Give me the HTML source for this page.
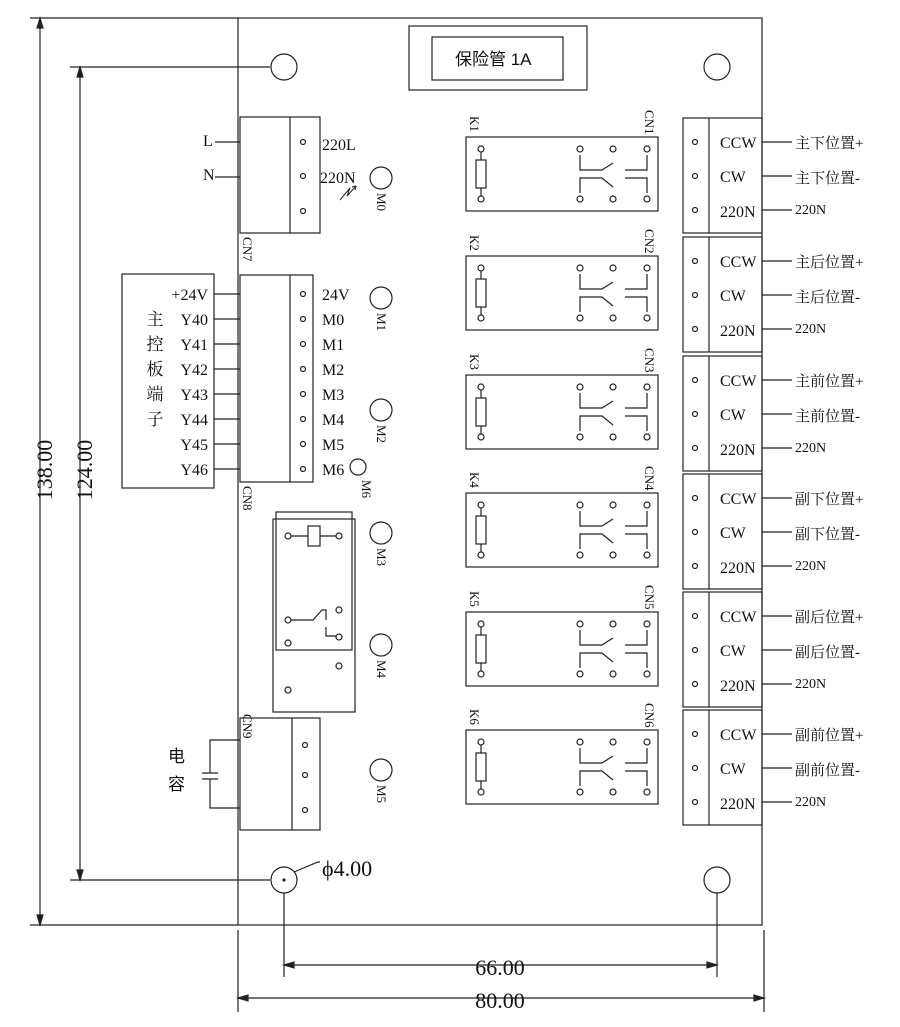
<!DOCTYPE html>
<html><head><meta charset="utf-8"><style>
body{margin:0;background:#fff}
svg{display:block}
text{font-family:"Liberation Serif","Noto Serif CJK SC",serif;fill:#111}
.c{font-family:"Liberation Sans","Noto Sans CJK SC",sans-serif}
</style></head><body>
<svg width="900" height="1027" viewBox="0 0 900 1027" xmlns="http://www.w3.org/2000/svg" stroke="#222" fill="none" stroke-width="1.2">
<defs>
<g id="relay">
<rect x="466" y="0" width="192" height="74"/>
<circle cx="481" cy="12" r="3"/><circle cx="481" cy="62" r="3"/>
<rect x="476" y="23" width="10" height="28"/>
<path d="M481 15V23M481 51V59"/>
<circle cx="580" cy="12" r="3"/><circle cx="613" cy="12" r="3"/><circle cx="647" cy="12" r="3"/>
<circle cx="580" cy="62" r="3"/><circle cx="613" cy="62" r="3"/><circle cx="647" cy="62" r="3"/>
<path d="M580 18V33H602L613 26M580 56V41H602L613 50M625 33H647V18M625 41H647V56"/>
</g>
<g id="conn">
<rect x="683" y="0" width="79" height="115"/>
<path d="M709 0V115"/>
<circle cx="695" cy="24" r="2.5"/><circle cx="695" cy="58" r="2.5"/><circle cx="695" cy="92" r="2.5"/>
<path d="M762 24H792M762 58H792M762 92H792"/>
</g>
</defs>
<!-- board -->
<rect x="238" y="18" width="524" height="907"/>
<rect x="409" y="26" width="178" height="64"/>
<rect x="432" y="37" width="131" height="43"/>
<text x="455" y="65" font-size="17" stroke="none" class="c">保险管 1A</text>
<circle cx="284" cy="67" r="13"/><circle cx="717" cy="67" r="13"/>
<circle cx="284" cy="880" r="13"/><circle cx="717" cy="880" r="13"/>
<circle cx="284" cy="880" r="1" fill="#222"/>
<!-- dims -->
<path d="M30 18H238M30 925H238M70 67H270M70 880H270M40 18V925M80 67V880"/>
<path d="M238 930V1012M764 930V1012M284 893V977M717 893V977M238 998H764M284 965H717"/>
<path d="M40 18l-3 10h6zM40 925l-3-10h6zM80 67l-3 10h6zM80 880l-3-10h6zM238 998l10-3v6zM764 998l-10-3v6zM284 965l10-3v6zM717 965l-10-3v6z" fill="#222"/>
<text transform="translate(52,470) rotate(-90)" font-size="22" stroke="none" text-anchor="middle">138.00</text>
<text transform="translate(92,470) rotate(-90)" font-size="22" stroke="none" text-anchor="middle">124.00</text>
<text x="500" y="975" font-size="22" stroke="none" text-anchor="middle">66.00</text>
<text x="500" y="1008" font-size="22" stroke="none" text-anchor="middle">80.00</text>
<path d="M294 872L318 862H320"/>
<text x="322" y="876" font-size="22" stroke="none">ϕ4.00</text>
<!-- CN7 -->
<rect x="240" y="117" width="80" height="116"/><path d="M290 117V233"/>
<circle cx="303" cy="142" r="2.5"/><circle cx="303" cy="176" r="2.5"/><circle cx="303" cy="211" r="2.5"/>
<path d="M215 142H240M215 177H240"/>
<text x="203" y="146" font-size="16" stroke="none">L</text>
<text x="203" y="180" font-size="16" stroke="none">N</text>
<text x="322" y="150" font-size="16" stroke="none">220L</text>
<text x="320" y="183" font-size="16" stroke="none">220N</text>
<path d="M340 200L350 188L347 196L356 186M356 186l-4 1M356 186l-1 4" stroke-width="1"/>
<text transform="translate(243,237) rotate(90)" font-size="13" stroke="none">CN7</text>
<!-- M circles -->
<circle cx="381" cy="178" r="11"/><text transform="translate(377,193) rotate(90)" font-size="13" stroke="none">M0</text>
<circle cx="381" cy="298" r="11"/><text transform="translate(377,313) rotate(90)" font-size="13" stroke="none">M1</text>
<circle cx="381" cy="410" r="11"/><text transform="translate(377,425) rotate(90)" font-size="13" stroke="none">M2</text>
<circle cx="358" cy="467" r="8"/><text transform="translate(362,480) rotate(90)" font-size="13" stroke="none">M6</text>
<circle cx="381" cy="533" r="11"/><text transform="translate(377,548) rotate(90)" font-size="13" stroke="none">M3</text>
<circle cx="381" cy="645" r="11"/><text transform="translate(377,660) rotate(90)" font-size="13" stroke="none">M4</text>
<circle cx="381" cy="770" r="11"/><text transform="translate(377,785) rotate(90)" font-size="13" stroke="none">M5</text>
<!-- CN8 -->
<rect x="240" y="275" width="73" height="207"/><path d="M290 275V482"/>
<g fill="none"><circle cx="303" cy="294" r="2.5"/><circle cx="303" cy="319" r="2.5"/><circle cx="303" cy="344" r="2.5"/><circle cx="303" cy="369" r="2.5"/><circle cx="303" cy="394" r="2.5"/><circle cx="303" cy="419" r="2.5"/><circle cx="303" cy="444" r="2.5"/><circle cx="303" cy="469" r="2.5"/></g>
<g font-size="16" stroke="none" fill="#111">
<text x="322" y="300">24V</text><text x="322" y="325">M0</text><text x="322" y="350">M1</text><text x="322" y="375">M2</text><text x="322" y="400">M3</text><text x="322" y="425">M4</text><text x="322" y="450">M5</text><text x="322" y="475">M6</text>
</g>
<rect x="122" y="274" width="92" height="214"/>
<path d="M214 294H240M214 319H240M214 344H240M214 369H240M214 394H240M214 419H240M214 444H240M214 469H240"/>
<g font-size="16" stroke="none" text-anchor="end">
<text x="208" y="300">+24V</text><text x="208" y="325">Y40</text><text x="208" y="350">Y41</text><text x="208" y="375">Y42</text><text x="208" y="400">Y43</text><text x="208" y="425">Y44</text><text x="208" y="450">Y45</text><text x="208" y="475">Y46</text>
</g>
<g font-size="17" stroke="none" class="c" text-anchor="middle">
<text x="155" y="325">主</text><text x="155" y="350">控</text><text x="155" y="375">板</text><text x="155" y="400">端</text><text x="155" y="425">子</text>
</g>
<text transform="translate(243,486) rotate(90)" font-size="13" stroke="none">CN8</text>
<!-- small relay -->
<rect x="273" y="519" width="82" height="193"/>
<rect x="276" y="512" width="76" height="138"/>
<circle cx="288" cy="536" r="3"/><circle cx="339" cy="536" r="3"/>
<path d="M291 536H308M320 536H336"/><rect x="308" y="526" width="12" height="20"/>
<circle cx="288" cy="620" r="3"/><circle cx="339" cy="610" r="3"/><circle cx="339" cy="637" r="3"/>
<path d="M291 620H313L322 610H326V620M326 627V636H336M322 610H326"/>
<circle cx="288" cy="643" r="3"/>
<circle cx="339" cy="666" r="3"/><circle cx="288" cy="690" r="3"/>
<!-- CN9 -->
<rect x="240" y="718" width="80" height="112"/><path d="M292 718V830"/>
<circle cx="305" cy="745" r="2.5"/><circle cx="305" cy="775" r="2.5"/><circle cx="305" cy="810" r="2.5"/>
<text transform="translate(243,714) rotate(90)" font-size="13" stroke="none">CN9</text>
<path d="M240 740H210V773M202 773H218M202 779H218M210 779V808H240"/>
<text x="168" y="762" font-size="17" stroke="none" class="c">电</text>
<text x="168" y="790" font-size="17" stroke="none" class="c">容</text>
<!-- relays -->
<use href="#relay" transform="translate(0,137)"/>
<use href="#relay" transform="translate(0,256)"/>
<use href="#relay" transform="translate(0,375)"/>
<use href="#relay" transform="translate(0,493)"/>
<use href="#relay" transform="translate(0,612)"/>
<use href="#relay" transform="translate(0,730)"/>
<g font-size="13" stroke="none">
<text transform="translate(470,116) rotate(90)">K1</text><text transform="translate(645,110) rotate(90)">CN1</text>
<text transform="translate(470,235) rotate(90)">K2</text><text transform="translate(645,229) rotate(90)">CN2</text>
<text transform="translate(470,354) rotate(90)">K3</text><text transform="translate(645,348) rotate(90)">CN3</text>
<text transform="translate(470,472) rotate(90)">K4</text><text transform="translate(645,466) rotate(90)">CN4</text>
<text transform="translate(470,591) rotate(90)">K5</text><text transform="translate(645,585) rotate(90)">CN5</text>
<text transform="translate(470,709) rotate(90)">K6</text><text transform="translate(645,703) rotate(90)">CN6</text>
</g>
<!-- right connectors -->
<use href="#conn" transform="translate(0,118)"/>
<use href="#conn" transform="translate(0,237)"/>
<use href="#conn" transform="translate(0,356)"/>
<use href="#conn" transform="translate(0,474)"/>
<use href="#conn" transform="translate(0,592)"/>
<use href="#conn" transform="translate(0,710)"/>
<g font-size="16" stroke="none">
<text x="720" y="148">CCW</text><text x="720" y="182">CW</text><text x="720" y="217">220N</text>
<text x="720" y="267">CCW</text><text x="720" y="301">CW</text><text x="720" y="336">220N</text>
<text x="720" y="386">CCW</text><text x="720" y="420">CW</text><text x="720" y="455">220N</text>
<text x="720" y="504">CCW</text><text x="720" y="538">CW</text><text x="720" y="573">220N</text>
<text x="720" y="622">CCW</text><text x="720" y="656">CW</text><text x="720" y="691">220N</text>
<text x="720" y="740">CCW</text><text x="720" y="774">CW</text><text x="720" y="809">220N</text>
</g>
<g font-size="15" stroke="none" class="c">
<text x="795" y="148">主下位置+</text><text x="795" y="183">主下位置-</text>
<text x="795" y="267">主后位置+</text><text x="795" y="302">主后位置-</text>
<text x="795" y="386">主前位置+</text><text x="795" y="421">主前位置-</text>
<text x="795" y="504">副下位置+</text><text x="795" y="539">副下位置-</text>
<text x="795" y="622">副后位置+</text><text x="795" y="657">副后位置-</text>
<text x="795" y="740">副前位置+</text><text x="795" y="775">副前位置-</text>
</g>
<g font-size="14" stroke="none">
<text x="795" y="214">220N</text><text x="795" y="333">220N</text><text x="795" y="452">220N</text>
<text x="795" y="570">220N</text><text x="795" y="688">220N</text><text x="795" y="806">220N</text>
</g>
</svg>
</body></html>
